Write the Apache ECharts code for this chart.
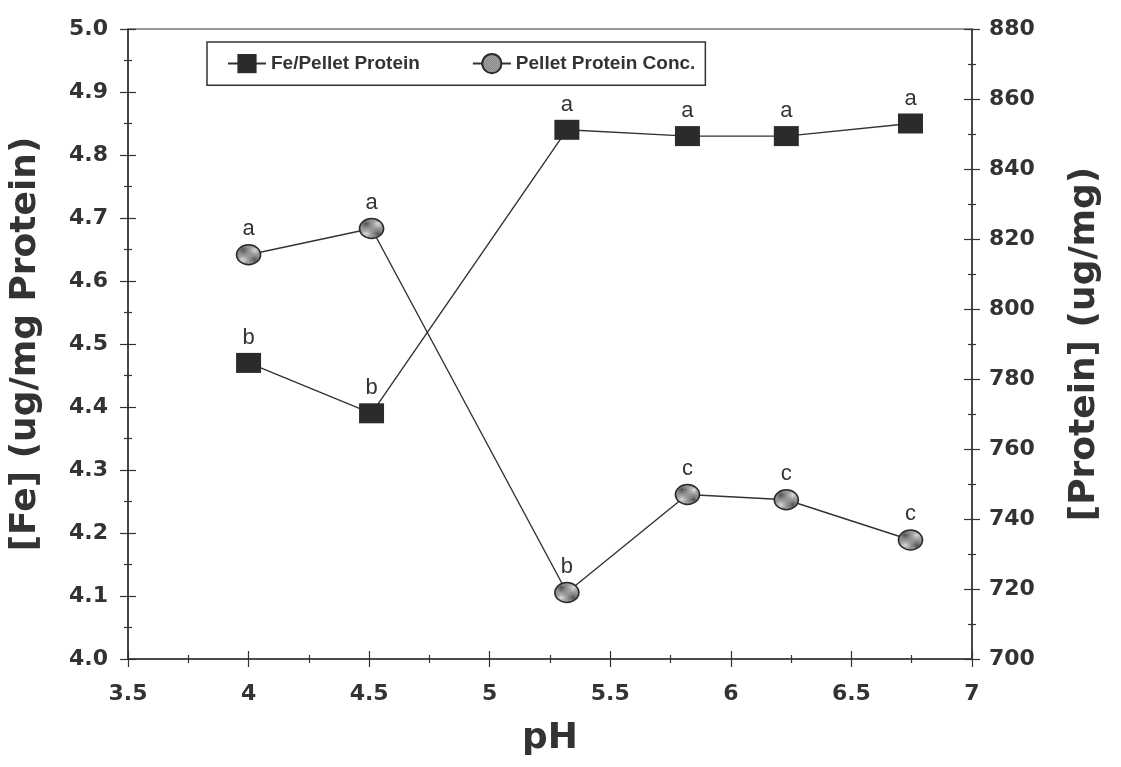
<!DOCTYPE html>
<html><head><meta charset="utf-8">
<script src="https://cdn.jsdelivr.net/npm/echarts@6/dist/echarts.min.js"></script>
<style>html,body{margin:0;padding:0;background:#fff}#c{width:1121px;height:767px}</style>
</head><body><div id="c"></div>
<script>
// ---- data ----
const pH = [4.0, 4.51, 5.32, 5.82, 6.23, 6.745];
const fePerProtein = [4.47, 4.39, 4.84, 4.83, 4.83, 4.85];
const proteinConc = [815.5, 823, 719, 747, 745.5, 734];
const feLetters = ['b', 'b', 'a', 'a', 'a', 'a'];
const proteinLetters = ['a', 'a', 'b', 'c', 'c', 'c'];
const seriesNames = ['Fe/Pellet Protein', 'Pellet Protein Conc.'];
const xTitle = 'pH';
const yLeftTitle = '[Fe] (ug/mg Protein)';
const yRightTitle = '[Protein] (ug/mg)';

// ---- styles ----
const INK = '#333333';
const TICK_FONT = { fontFamily: 'DejaVu Sans', fontWeight: 'bold', fontSize: 22, color: INK };
const TITLE_FONT = { fontFamily: 'DejaVu Sans', fontWeight: 'bold', fontSize: 36, color: INK };

// stipple pattern for circles
const pc = document.createElement('canvas');
pc.width = 2; pc.height = 2;
const pctx = pc.getContext('2d');
pctx.fillStyle = '#dcdcdc'; pctx.fillRect(0, 0, 2, 2);
pctx.fillStyle = '#505050'; pctx.fillRect(0, 0, 1, 1); pctx.fillRect(1, 1, 1, 1);
const stipple = { image: pc, repeat: 'repeat' };
const ellipse = 'path://M0,10A12,10,0,1,0,24,10A12,10,0,1,0,0,10Z';

function valueAxisBase(min, max, interval) {
  return { type: 'value', min: min, max: max, interval: interval, splitLine: { show: false } };
}
function mainAxis(min, max, interval, extra) {
  return Object.assign(valueAxisBase(min, max, interval), {
    axisLine: { show: true, onZero: false, lineStyle: { color: INK, width: 1.5 } },
    axisTick: { show: true, inside: false, length: 8, lineStyle: { color: INK, width: 1.2 } },
    minorTick: { show: true, splitNumber: 2, length: 4, lineStyle: { color: INK, width: 1.2 } }
  }, extra);
}
function innerAxis(min, max, interval, position) {
  return Object.assign(valueAxisBase(min, max, interval), {
    position: position,
    axisLine: { show: false, onZero: false },
    axisLabel: { show: false },
    axisTick: { show: true, inside: true, length: 8, lineStyle: { color: INK, width: 1.2 } },
    minorTick: { show: true, splitNumber: 2, length: 4, lineStyle: { color: INK, width: 1.2 } }
  });
}

const chart = echarts.init(document.getElementById('c'), null, { renderer: 'canvas' });
chart.setOption({
  backgroundColor: '#ffffff',
  animation: false,
  grid: {
    left: 128, right: 149, top: 29, bottom: 108,
    show: true, borderColor: INK, borderWidth: 1.2, backgroundColor: 'transparent',
    containLabel: false, outerBoundsMode: 'none'
  },
  legend: {
    left: 207, top: 42,
    orient: 'horizontal',
    padding: [11, 10, 11, 20],
    itemGap: 52,
    itemWidth: 38, itemHeight: 24,
    borderColor: INK, borderWidth: 1.5,
    textStyle: { fontFamily: 'Liberation Sans', fontWeight: 'bold', fontSize: 19, color: INK },
    data: seriesNames
  },
  xAxis: [
    mainAxis(3.5, 7, 0.5, {
      position: 'bottom',
      name: xTitle, nameLocation: 'middle', nameGap: 62, nameTextStyle: TITLE_FONT,
      axisLabel: Object.assign({ margin: 24 }, TICK_FONT)
    }),
    innerAxis(3.5, 7, 0.5, 'bottom')
  ],
  yAxis: [
    mainAxis(4.0, 5.0, 0.1, {
      position: 'left',
      name: yLeftTitle, nameLocation: 'middle', nameGap: 84, nameRotate: 90, nameTextStyle: TITLE_FONT,
      axisLabel: Object.assign({ margin: 20, formatter: v => v.toFixed(1) }, TICK_FONT)
    }),
    mainAxis(700, 880, 20, {
      position: 'right',
      name: yRightTitle, nameLocation: 'middle', nameGap: 95, nameRotate: 90, nameTextStyle: TITLE_FONT,
      axisLabel: Object.assign({ margin: 17 }, TICK_FONT)
    }),
    innerAxis(4.0, 5.0, 0.1, 'left'),
    innerAxis(700, 880, 20, 'right')
  ],
  series: [
    {
      name: seriesNames[0], type: 'line', xAxisIndex: 0, yAxisIndex: 0,
      data: pH.map((x, i) => [x, fePerProtein[i]]),
      symbol: 'rect', symbolSize: [25, 20], showAllSymbol: true,
      lineStyle: { color: INK, width: 1.4 },
      itemStyle: { color: '#2b2b2b', borderColor: '#222', borderWidth: 0 },
      label: {
        show: true, position: 'top', distance: 4,
        formatter: p => feLetters[p.dataIndex],
        fontFamily: 'Liberation Sans', fontSize: 22, color: INK
      },
      z: 3
    },
    {
      name: seriesNames[1], type: 'line', xAxisIndex: 0, yAxisIndex: 1,
      data: pH.map((x, i) => [x, proteinConc[i]]),
      symbol: ellipse, symbolSize: [24, 20], showAllSymbol: true,
      lineStyle: { color: INK, width: 1.4 },
      itemStyle: { color: stipple, borderColor: '#2a2a2a', borderWidth: 1.5 },
      label: {
        show: true, position: 'top', distance: 4,
        formatter: p => proteinLetters[p.dataIndex],
        fontFamily: 'Liberation Sans', fontSize: 22, color: INK
      },
      z: 3
    }
  ]
});
</script>
</body></html>
